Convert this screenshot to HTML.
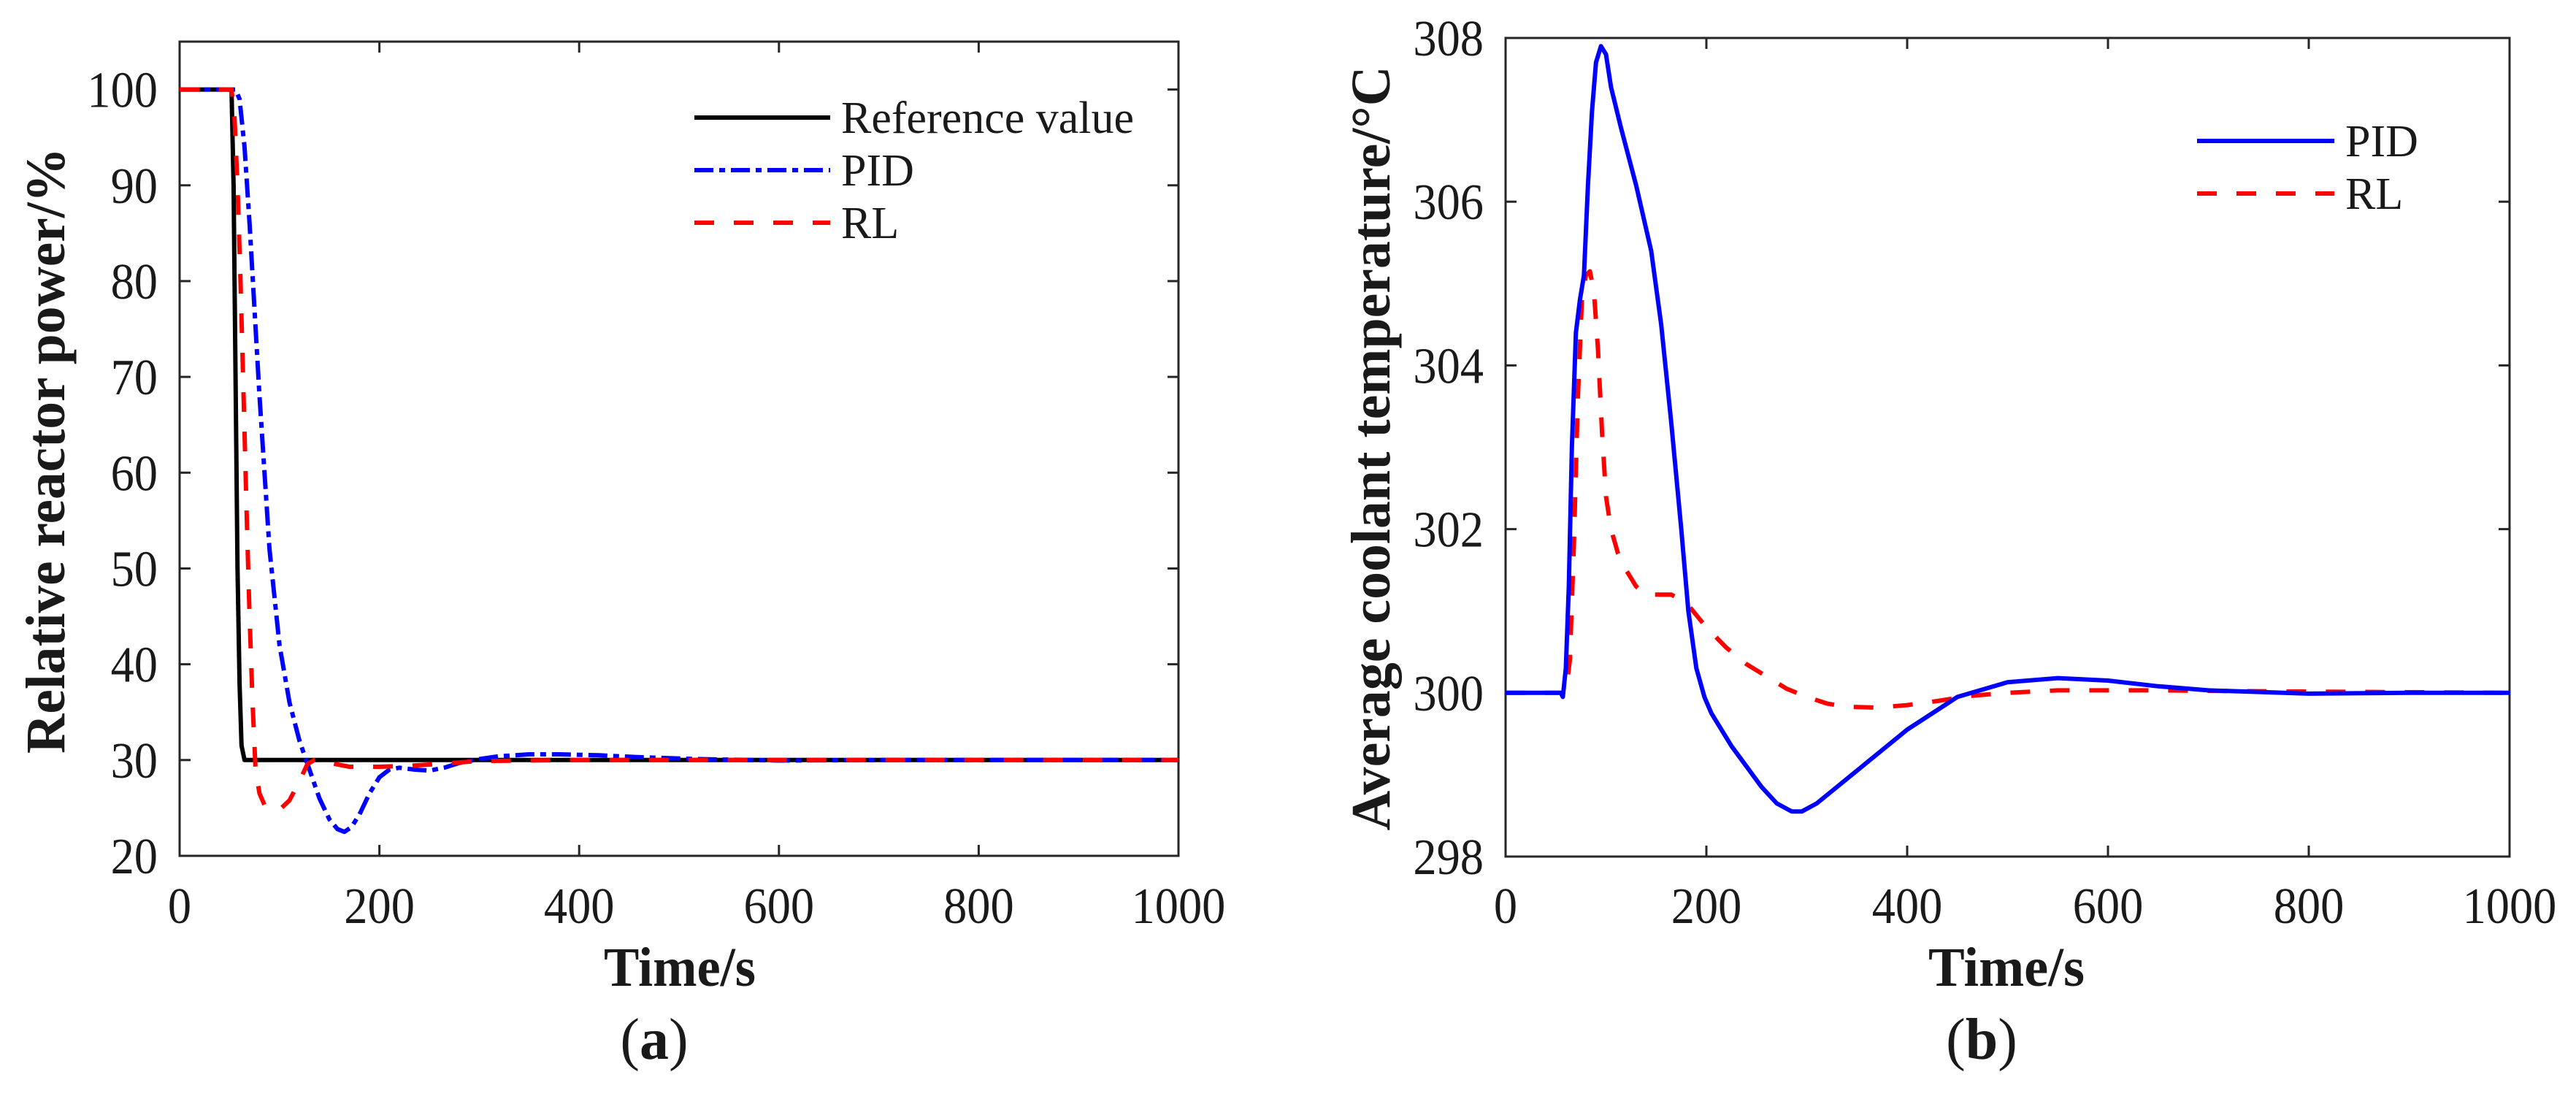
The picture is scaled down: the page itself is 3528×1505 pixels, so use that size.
<!DOCTYPE html>
<html><head><meta charset="utf-8"><style>
html,body{margin:0;padding:0;background:#fff;}
svg{display:block;}
text{font-family:"Liberation Serif",serif;fill:#1a1a1a;}
</style></head><body>
<svg id="fig" width="3528" height="1505" viewBox="0 0 3528 1505" xmlns="http://www.w3.org/2000/svg"></svg>
<script>
// ---- Panel (a) data ----
const aTicksX = [0,200,400,600,800,1000];
const aTicksY = [20,30,40,50,60,70,80,90,100];
const aRefT = [0,52,54,56,58,60,62,65,1000];
const aRefV = [100,100,90,70,50,38,31.5,30,30];
const aPidT = [0,56,60,65,70,75,80,90,100,110,120,130,140,150,158,165,172,180,190,200,210,220,235,250,265,280,300,320,350,380,420,460,520,600,700,1000];
const aPidV = [100,100,99,94,86,77,68,52,42,36,32,29,26,23.8,22.8,22.5,23,24.3,26.5,28.2,29,29.2,29,28.9,29.2,29.7,30.1,30.4,30.6,30.6,30.5,30.3,30.1,29.95,30,30];
const aRlT = [0,52,55,58,61,64,67,70,73,76,80,85,90,100,110,120,128,135,150,170,200,230,260,300,400,1000];
const aRlV = [100,100,97,90,80,68,56,45,36,29,26.5,25.3,25,24.8,25.8,27.8,29.6,30,29.7,29.3,29.3,29.4,29.6,29.9,30,30];
// ---- Panel (b) data ----
const bTicksX = [0,200,400,600,800,1000];
const bTicksY = [298,300,302,304,306,308];
const bPidT = [0,55,57,60,63,66,70,74,78,82,86,90,95,100,105,115,130,145,155,165,175,182,190,198,205,215,225,240,255,270,285,295,310,330,360,400,450,500,550,600,650,700,800,900,1000];
const bPidV = [300,300,299.95,300.3,301.3,303,304.4,304.8,305.1,306.2,307.1,307.7,307.9,307.8,307.4,306.9,306.2,305.4,304.5,303.3,302,301,300.3,299.95,299.75,299.55,299.35,299.1,298.85,298.65,298.55,298.55,298.65,298.85,299.15,299.55,299.95,300.13,300.18,300.15,300.08,300.03,299.99,300,300];
const bRlT = [0,60,64,68,72,76,80,84,88,92,96,100,105,112,120,130,140,150,165,180,200,220,240,260,280,300,320,340,370,400,430,460,500,550,650,750,1000];
const bRlV = [300,300,300.4,301.8,303.6,304.8,305.1,305.15,304.9,304.2,303.2,302.4,302,301.7,301.5,301.3,301.2,301.2,301.2,301.1,300.8,300.55,300.35,300.2,300.05,299.95,299.87,299.83,299.82,299.85,299.9,299.96,300,300.03,300.03,300.02,300];

const NS = "http://www.w3.org/2000/svg";
const svg = document.getElementById('fig');
function el(tag, attrs, parent){
  const e = document.createElementNS(NS, tag);
  for (const k in attrs) e.setAttribute(k, attrs[k]);
  (parent||svg).appendChild(e);
  return e;
}
function makeAxes(L, R, T, B, xmin, xmax, ymin, ymax){
  return {
    x: t => L + (t - xmin) / (xmax - xmin) * (R - L),
    y: v => B - (v - ymin) / (ymax - ymin) * (B - T),
    L, R, T, B
  };
}
function drawFrame(ax, ticksX, ticksY, name){
  const g = el('g', {});
  
  
  const frame = el('rect', {x:ax.L, y:ax.T, width:ax.R-ax.L, height:ax.B-ax.T, fill:'none', stroke:'#262626', 'stroke-width':3}, g);
  
  
  ticksX.forEach(t => {
    const x = ax.x(t);
    el('line', {x1:x, x2:x, y1:ax.B, y2:ax.B-15, stroke:'#262626','stroke-width':3}, g);
    el('line', {x1:x, x2:x, y1:ax.T, y2:ax.T+15, stroke:'#262626','stroke-width':3}, g);
    const lb = el('text', {x:x/0.92, y:1264, 'font-size':70, 'text-anchor':'middle', transform:'scale(0.92,1)'}, g);
    
    
    lb.textContent = t;
  });
  ticksY.forEach(v => {
    const y = ax.y(v);
    el('line', {x1:ax.L, x2:ax.L+15, y1:y, y2:y, stroke:'#262626','stroke-width':3}, g);
    el('line', {x1:ax.R, x2:ax.R-15, y1:y, y2:y, stroke:'#262626','stroke-width':3}, g);
    const lb = el('text', {x:(ax.L-30)/0.92, y:y+24, 'font-size':70, 'text-anchor':'end', transform:'scale(0.92,1)'}, g);
    
    
    lb.textContent = v;
  });
}
function drawSeries(ax, ts, vs, color, dash, name){
  let d = '';
  ts.forEach((t,i) => { d += (i ? 'L' : 'M') + ax.x(t).toFixed(1) + ',' + ax.y(vs[i]).toFixed(1); });
  const p = el('path', {d:d, fill:'none', stroke:color, 'stroke-width':6, 'stroke-linejoin':'round'});
  if (dash) p.setAttribute('stroke-dasharray', dash);
  
  
}
function legendEntry(x1, x2, y, color, dash, label, name){
  const g = el('g', {});
  
  
  const l = el('line', {x1:x1, x2:x2, y1:y, y2:y, stroke:color, 'stroke-width':6}, g);
  if (dash) l.setAttribute('stroke-dasharray', dash);
  const t = el('text', {x:x2+15, y:y+21, 'font-size':62}, g);
  t.textContent = label;
}
function textAt(x, y, size, weight, str, name, rotate, len){
  const t = el('text', {x:x, y:y, 'font-size':size, 'font-weight':weight, 'text-anchor':'middle'});
  if (rotate) t.setAttribute('transform', 'rotate(-90 ' + x + ' ' + y + ')');
  if (len) { t.setAttribute('textLength', len); t.setAttribute('lengthAdjust', 'spacingAndGlyphs'); }
  
  
  t.textContent = str;
  return t;
}
function caption(x, y, letter, name){
  const t = el('text', {x:x, y:y, 'font-size':80, 'text-anchor':'middle'});
  
  
  const s1 = el('tspan', {}, t); s1.textContent = '(';
  const s2 = el('tspan', {'font-weight':'bold'}, t); s2.textContent = letter;
  const s3 = el('tspan', {}, t); s3.textContent = ')';
}

// Panel (a)
const A = makeAxes(246, 1614, 57, 1172, 0, 1000, 20, 105);
drawFrame(A, aTicksX, aTicksY, 'panel-a');
drawSeries(A, aRefT, aRefV, '#000000', null, 'series-a-reference');
drawSeries(A, aPidT, aPidV, '#0000ff', '26 8 8 8', 'series-a-pid');
drawSeries(A, aRlT, aRlV, '#ff0000', '27 27', 'series-a-rl');
legendEntry(951, 1137, 161, '#000000', null, 'Reference value', 'legend-a-reference');
legendEntry(951, 1137, 233, '#0000ff', '26 8 8 8', 'PID', 'legend-a-pid');
legendEntry(951, 1137, 305, '#ff0000', '27 27', 'RL', 'legend-a-rl');
textAt(88, 617, 76, 'bold', 'Relative reactor power/%', 'panel-a-y-axis-title', true, 830);
textAt(931, 1350, 76, 'bold', 'Time/s', 'panel-a-x-axis-title', false, 208);
caption(896, 1450, 'a', 'panel-a-caption');

// Panel (b)
const Bx = makeAxes(2062, 3437, 52, 1173, 0, 1000, 298, 308);
drawFrame(Bx, bTicksX, bTicksY, 'panel-b');
drawSeries(Bx, bRlT, bRlV, '#ff0000', '27 27', 'series-b-rl');
drawSeries(Bx, bPidT, bPidV, '#0000ff', null, 'series-b-pid');
legendEntry(3009, 3197, 193, '#0000ff', null, 'PID', 'legend-b-pid');
legendEntry(3009, 3197, 265, '#ff0000', '27 27', 'RL', 'legend-b-rl');
textAt(1903, 614, 76, 'bold', 'Average coolant temperature/°C', 'panel-b-y-axis-title', true, 1047);
textAt(2748, 1350, 76, 'bold', 'Time/s', 'panel-b-x-axis-title', false, 214);
caption(2714, 1450, 'b', 'panel-b-caption');
</script>
</body></html>
